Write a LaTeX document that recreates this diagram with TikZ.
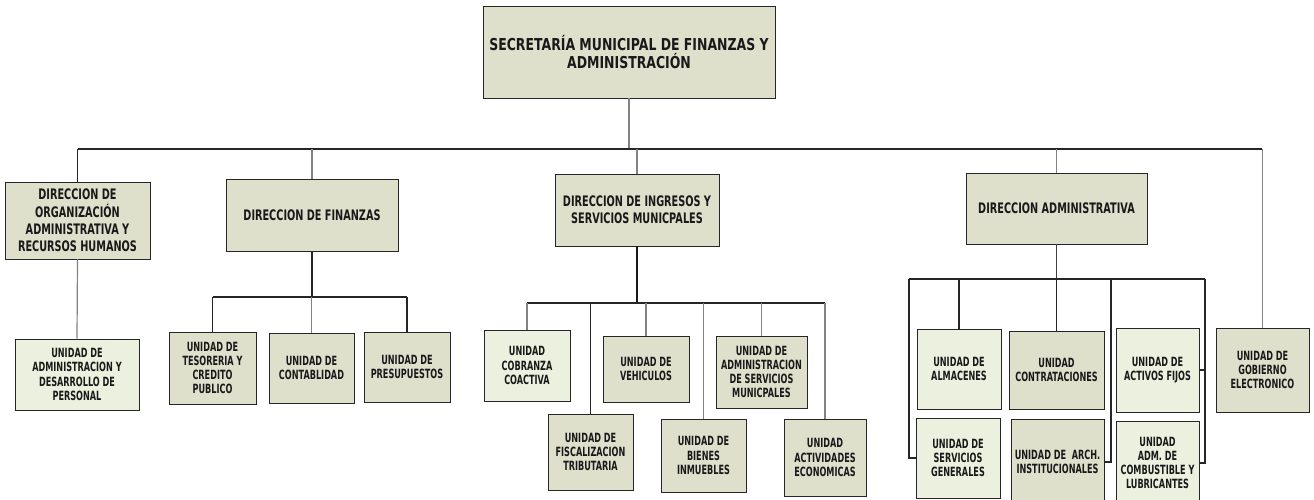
\documentclass[tikz,border=0pt]{standalone}
\usepackage{fontspec}
\newfontfamily\ftop[FakeStretch=0.76]{DejaVu Sans}
\newfontfamily\fdir[FakeStretch=0.67]{DejaVu Sans}
\newfontfamily\funit[FakeStretch=0.64]{DejaVu Sans}
\definecolor{darkfill}{RGB}{222,224,204}
\definecolor{lightfill}{RGB}{235,241,222}
\definecolor{txt}{RGB}{25,25,25}
\definecolor{lgray}{RGB}{130,130,130}
\tikzset{
  box/.style={draw=black!85, line width=0.9pt, align=center, inner sep=1pt, text=txt},
  dk/.style={box, fill=darkfill},
  lt/.style={box, fill=lightfill},
  toptext/.style={font=\ftop\bfseries\fontsize{16.4}{18.5}\selectfont},
  dirtext/.style={font=\fdir\bfseries\fontsize{14.5}{17.3}\selectfont},
  unittext/.style={font=\funit\bfseries\fontsize{12.7}{14.3}\selectfont},
  ln/.style={line width=1.2pt, draw=black!85},
  lg/.style={line width=1.2pt, draw=lgray},
  lthick/.style={line width=2pt, draw=black!90},
}
\begin{document}
\begin{tikzpicture}[x=1pt,y=-1pt]
\useasboundingbox (0,0) rectangle (1314,500);
\fill[white] (0,0) rectangle (1314,500);

% top
\node[dk, toptext, minimum width=292pt, minimum height=92pt] (top) at (629,52) {SECRETARÍA MUNICIPAL DE FINANZAS Y\\ADMINISTRACIÓN};

% directions
\node[dk, dirtext, minimum width=145pt, minimum height=77pt] (org) at (77.5,220.5) {DIRECCION DE\\ORGANIZACIÓN\\ADMINISTRATIVA Y\\RECURSOS HUMANOS};
\node[dk, dirtext, minimum width=172pt, minimum height=72pt] (fin) at (312,215) {DIRECCION DE FINANZAS};
\node[dk, dirtext, minimum width=164pt, minimum height=72pt] (ing) at (637,210) {DIRECCION DE INGRESOS Y\\SERVICIOS MUNICPALES};
\node[dk, dirtext, minimum width=181pt, minimum height=71pt] (adm) at (1056.5,208.5) {DIRECCION ADMINISTRATIVA};
\node[dk, unittext, minimum width=93pt, minimum height=84pt] (gob) at (1262.5,370) {UNIDAD DE\\GOBIERNO\\ELECTRONICO};

% units
\node[lt, unittext, minimum width=124pt, minimum height=71pt] (uad) at (77,374.5) {UNIDAD DE\\ADMINISTRACION Y\\DESARROLLO DE\\PERSONAL};

\node[dk, unittext, minimum width=87pt, minimum height=72pt] (tes) at (212.5,368) {UNIDAD DE\\TESORERIA Y\\CREDITO\\PUBLICO};
\node[dk, unittext, minimum width=85pt, minimum height=70pt] (con) at (311.5,368) {UNIDAD DE\\CONTABLIDAD};
\node[dk, unittext, minimum width=86pt, minimum height=70pt] (pre) at (407,367) {UNIDAD DE\\PRESUPUESTOS};

\node[lt, unittext, minimum width=86pt, minimum height=71pt] (cob) at (527,365.5) {UNIDAD\\COBRANZA\\COACTIVA};
\node[dk, unittext, minimum width=85pt, minimum height=76pt] (fis) at (590.5,452) {UNIDAD DE\\FISCALIZACION\\TRIBUTARIA};
\node[dk, unittext, minimum width=86pt, minimum height=66pt] (veh) at (646,369) {UNIDAD DE\\VEHICULOS};
\node[dk, unittext, minimum width=85pt, minimum height=73pt] (bie) at (703.5,455.5) {UNIDAD DE\\BIENES\\INMUEBLES};
\node[dk, unittext, minimum width=91pt, minimum height=72pt] (asm) at (761.5,372) {UNIDAD DE\\ADMINISTRACION\\DE SERVICIOS\\MUNICPALES};
\node[dk, unittext, minimum width=82pt, minimum height=77pt] (act) at (825,457.5) {UNIDAD\\ACTIVIDADES\\ECONOMICAS};

\node[lt, unittext, minimum width=84pt, minimum height=80pt] (alm) at (959,369) {UNIDAD DE\\ALMACENES};
\node[dk, unittext, minimum width=95pt, minimum height=78pt] (ctr) at (1056.5,370) {UNIDAD\\CONTRATACIONES};
\node[lt, unittext, minimum width=83pt, minimum height=84pt] (acf) at (1157.5,370) {UNIDAD DE\\ACTIVOS FIJOS};
\node[lt, unittext, minimum width=84pt, minimum height=80pt] (svg) at (958,458) {UNIDAD DE\\SERVICIOS\\GENERALES};
\node[dk, unittext, minimum width=93pt, minimum height=86pt] (arc) at (1057.5,462) {UNIDAD DE~~ARCH.\\INSTITUCIONALES};
\node[lt, unittext, minimum width=83pt, minimum height=84pt] (cmb) at (1157.5,463) {UNIDAD\\ADM. DE\\COMBUSTIBLE Y\\LUBRICANTES};

% main bus
\coordinate (busL) at (78,149);
\coordinate (busR) at (1262,149);
\draw[lg] (top.south) -- (top.south |- busL);
\draw[ln] (busL) -- (busR);
\draw[ln] (org.north) -- (org.north |- busL);
\draw[lg] (fin.north) -- (fin.north |- busL);
\draw[lg] (ing.north) -- (ing.north |- busL);
\draw[lg] (adm.north) -- (adm.north |- busL);
\draw[lg] (gob.north) -- (gob.north |- busR);

% organizacion
\draw[lg] (org.south) -- (uad.north);

% finanzas
\coordinate (fbus) at (312,297);
\draw[ln] (fin.south) -- (fin.south |- fbus);
\draw[ln] (tes.north |- fbus) -- (pre.north |- fbus);
\draw[ln] (tes.north) -- (tes.north |- fbus);
\draw[lg] (con.north) -- (con.north |- fbus);
\draw[ln] (pre.north) -- (pre.north |- fbus);

% ingresos
\coordinate (ibus) at (637,303);
\draw[lthick] (ing.south) -- (ing.south |- ibus);
\draw[ln] (cob.north |- ibus) -- (act.north |- ibus);
\draw[lg] (cob.north) -- (cob.north |- ibus);
\draw[ln] (fis.north) -- (fis.north |- ibus);
\draw[lg] (veh.north) -- (veh.north |- ibus);
\draw[lg] (bie.north) -- (bie.north |- ibus);
\draw[lg] (asm.north) -- (asm.north |- ibus);
\draw[lg] (act.north) -- (act.north |- ibus);

% administrativa
\coordinate (aL) at (909,279);
\coordinate (aM) at (1111,279);
\coordinate (aR) at (1205,279);
\draw[line width=1.6pt, draw=black!75] (adm.south) -- (adm.south |- aL);
\draw[ln] (aL) -- (aR);
\draw[ln] (aL) |- (svg.west);
\draw[ln] (alm.north) -- (alm.north |- aL);
\draw[ln] (ctr.north) -- (ctr.north |- aL);
\draw[ln] (aM) |- (arc.east);
\draw[ln] (aR) |- (cmb.east);
\draw[ln] (acf.east) -- (acf.east -| aR);
\end{tikzpicture}
\end{document}
